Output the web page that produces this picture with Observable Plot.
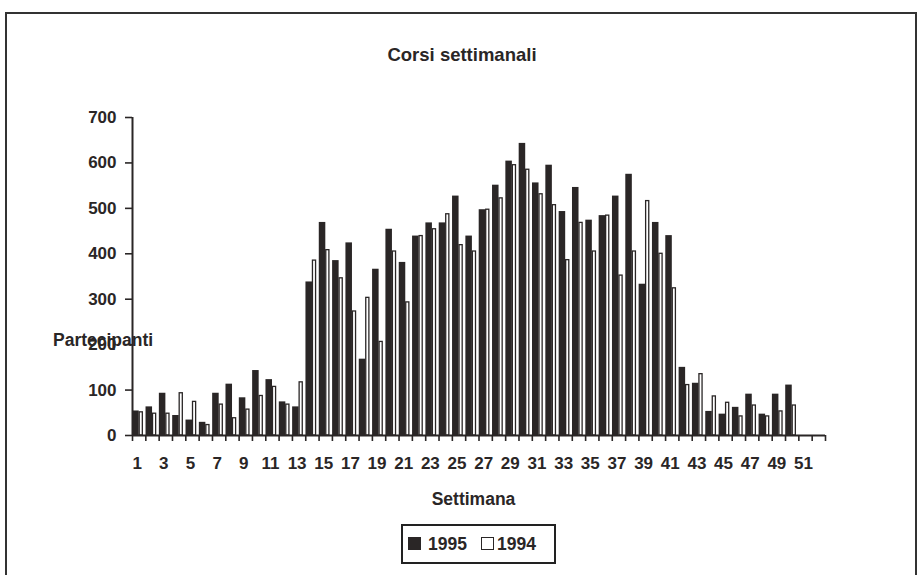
<!DOCTYPE html>
<html>
<head>
<meta charset="utf-8">
<script src="https://cdn.jsdelivr.net/npm/d3@7"></script>
<script src="https://cdn.jsdelivr.net/npm/@observablehq/plot@0.6"></script>
<style>
  html, body { margin: 0; padding: 0; background: #fff; }
  body { width: 921px; height: 575px; overflow: hidden; position: relative;
         font-family: "Liberation Sans", Arial, Helvetica, sans-serif; font-weight: bold; color: #2a2626; }
  #frame { position: absolute; left: 5px; top: 12px; width: 912px; height: 620px; border: 2px solid #333; box-sizing: border-box; }
  #chart { position: absolute; left: 0; top: 0; }
  .abs { position: absolute; white-space: nowrap; line-height: 1; }
  #title { left: 0; width: 924px; top: 46px; text-align: center; font-size: 18.5px; }
  #ylab { left: 53px; top: 332px; font-size: 17.5px; }
  #xlab { left: 0; width: 947px; top: 491px; text-align: center; font-size: 17.5px; }
  #legend { left: 401px; top: 524px; width: 155px; height: 40px; border: 2px solid #222; box-sizing: border-box; font-size: 17.5px; }
  .sw { position: absolute; top: 11px; width: 13px; height: 13px; box-sizing: border-box; }
  .lt { position: absolute; top: 10px; }
</style>
</head>
<body>
<div id="frame"></div>
<div id="chart"></div>
<div id="title" class="abs">Corsi settimanali</div>
<div id="ylab" class="abs">Partecipanti</div>
<div id="xlab" class="abs">Settimana</div>
<div id="legend" class="abs">
  <div class="sw" style="left:5px;background:#2a2626;"></div><div class="lt" style="left:25px;">1995</div>
  <div class="sw" style="left:78px;background:#fff;border:1.5px solid #2a2626;"></div><div class="lt" style="left:94px;">1994</div>
</div>
<script>
// Weeks 1..52
const weeks = d3.range(1, 53);
// Participants 1995 (dark bars); weeks 51-52 have no data
const part1995 = [54, 63, 93, 44, 34, 29, 93, 113, 83, 143,
                  123, 74, 63, 338, 469, 385, 424, 168, 366, 454,
                  381, 439, 468, 468, 527, 439, 497, 551, 604, 643,
                  556, 595, 493, 546, 474, 484, 527, 575, 333, 469,
                  440, 150, 115, 53, 47, 62, 91, 47, 91, 111,
                  null, null];
// Participants 1994 (white bars)
const part1994 = [51, 48, 48, 93, 74, 23, 68, 38, 57, 87,
                  107, 68, 117, 385, 408, 346, 273, 303, 206, 405,
                  293, 439, 454, 487, 419, 405, 497, 522, 595, 585,
                  531, 507, 386, 468, 405, 484, 352, 405, 516, 400,
                  324, 111, 135, 86, 72, 42, 66, 42, 53, 66,
                  null, null];
const yTicks = [0, 100, 200, 300, 400, 500, 600, 700];
const weekLabels = weeks.filter(w => w % 2 === 1);

const data = weeks.map((w, i) => ({week: w, v95: part1995[i], v94: part1994[i]}));
const xDomain = [weeks[0] - 0.5, weeks[weeks.length - 1] + 0.5];
const boundaries = weeks.map(w => w - 0.5).concat([xDomain[1]]);
const ink = "#2a2626";

const chart = Plot.plot({
  width: 921,
  height: 480,
  marginTop: 117,
  marginBottom: 45,
  marginLeft: 132,
  marginRight: 96,
  x: {type: "linear", domain: xDomain},
  y: {domain: [yTicks[0], yTicks[yTicks.length - 1]]},
  style: {fontFamily: "'Liberation Sans', Arial, Helvetica, sans-serif", fontWeight: "bold", fontSize: "17px", color: ink, background: "transparent", overflow: "visible"},
  marks: [
    Plot.rectY(data.filter(d => d.v94 != null), {
      x1: d => d.week - 0.5, x2: d => d.week + 0.5, y: "v94",
      fill: "white", stroke: ink, strokeWidth: 1.3, insetLeft: 7.2, insetRight: 3.0
    }),
    Plot.rectY(data.filter(d => d.v95 != null), {
      x1: d => d.week - 0.5, x2: d => d.week + 0.5, y: "v95",
      fill: ink, insetLeft: 0.2, insetRight: 6.6
    }),
    Plot.axisY({ticks: yTicks, tickSize: 7, tickPadding: 9, tickFormat: d => String(d), label: null, strokeWidth: 1.6}),
    Plot.axisX({ticks: boundaries, tickSize: 6, tickFormat: () => "", label: null, strokeWidth: 1.6}),
    Plot.axisX({ticks: weekLabels, tickSize: 0, tickPadding: 21, dx: -2, tickFormat: d => String(d), label: null}),
    Plot.ruleX([xDomain[0]], {y1: yTicks[0], y2: yTicks[yTicks.length - 1], stroke: ink, strokeWidth: 2}),
    Plot.ruleY([yTicks[0]], {x1: xDomain[0], x2: xDomain[1], stroke: ink, strokeWidth: 2})
  ]
});
document.getElementById("chart").appendChild(chart);
</script>
</body>
</html>
